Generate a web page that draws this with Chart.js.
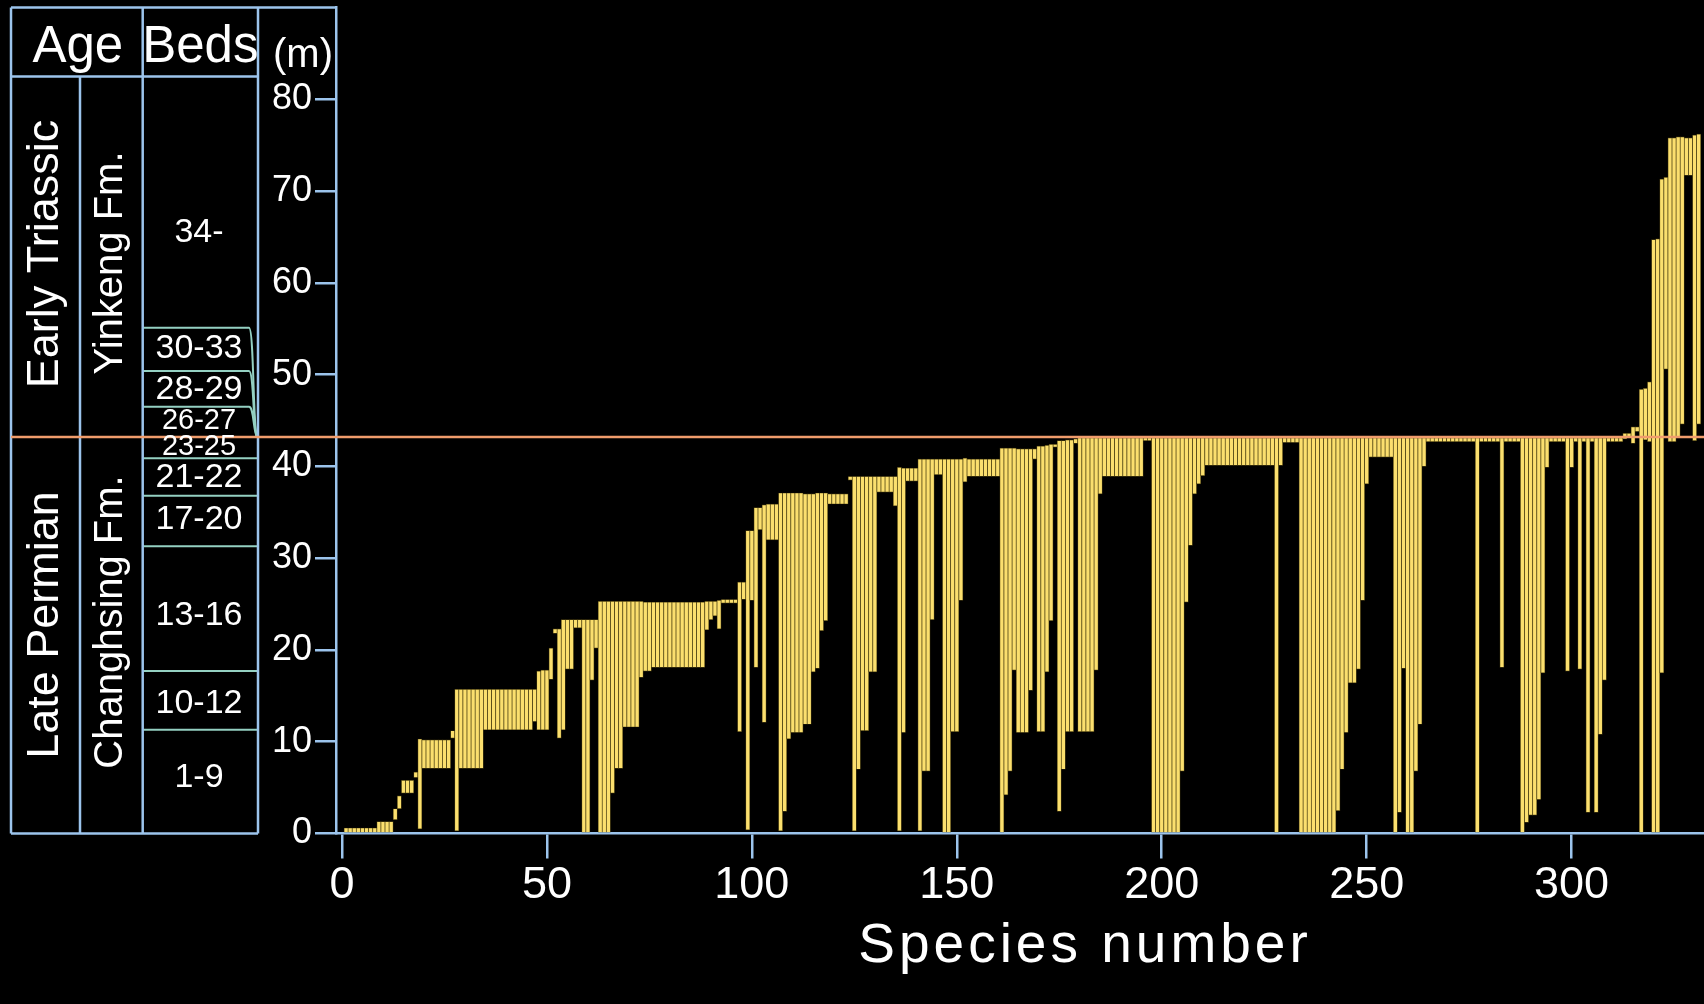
<!DOCTYPE html>
<html lang="en">
<head>
<meta charset="UTF-8">
<title>Species ranges - Meishan</title>
<script src="https://cdn.jsdelivr.net/npm/chart.js"></script>
<style>
  html, body { margin: 0; padding: 0; background: #000; }
  canvas { display: block; }
</style>
</head>
<body>
<canvas id="rangeChart" width="1704" height="1004"></canvas>
<script>
// lowest occurrence of each species (m), species 1..331
var firstSeen = [
  0, 0, 0, 0, 0, 0, 0, 0, 0, 0,
  0, 0, 1.5, 2.7, 4.4, 4.4, 4.4, 6.1, 0.5, 7.1,
  7.1, 7.1, 7.1, 7.1, 7.1, 7.1, 10.4, 0.3, 7.1, 7.1,
  7.1, 7.1, 7.1, 7.1, 11.3, 11.3, 11.3, 11.3, 11.3, 11.3,
  11.3, 11.3, 11.3, 11.3, 11.3, 11.3, 12.2, 11.3, 11.3, 11.3,
  16.8, 21.8, 10.4, 11.3, 17.9, 17.9, 22.4, 22.4, 0, 0,
  16.7, 20.2, 0, 0, 0, 4.4, 7.1, 7.1, 11.6, 11.6,
  11.6, 11.6, 17.0, 17.7, 17.7, 18.1, 18.1, 18.1, 18.1, 18.1,
  18.1, 18.1, 18.1, 18.1, 18.1, 18.1, 18.1, 18.1, 22.2, 23.3,
  23.7, 22.3, 25.1, 25.1, 25.1, 25.1, 11.1, 25.5, 0.4, 25.4,
  18.1, 33.1, 12.1, 32.0, 32.0, 32.0, 0.3, 2.4, 10.3, 11.0,
  11.0, 11.0, 11.9, 11.9, 17.6, 18.0, 22.1, 23.2, 35.9, 35.9,
  35.9, 35.9, 35.9, 38.5, 0.3, 7.0, 11.2, 11.2, 17.6, 17.6,
  37.2, 37.2, 37.2, 37.2, 35.7, 0.3, 11.0, 38.4, 38.4, 38.4,
  0.3, 6.8, 6.8, 23.3, 39.1, 39.1, 0, 0, 11.1, 11.1,
  25.4, 38.3, 38.9, 38.9, 38.9, 38.9, 38.9, 38.9, 38.9, 38.9,
  0, 4.2, 6.8, 17.8, 11.0, 11.0, 11.0, 15.6, 40.8, 11.1,
  11.1, 17.6, 23.2, 42.1, 2.4, 7.0, 11.1, 11.1, 42.5, 11.1,
  11.1, 11.1, 11.1, 17.8, 37.0, 38.9, 38.9, 38.9, 38.9, 38.9,
  38.9, 38.9, 38.9, 38.9, 38.9, 42.8, 42.8, 0, 0, 0,
  0, 0, 0, 0, 6.8, 25.2, 31.4, 37.0, 38.1, 39.0,
  40.1, 40.1, 40.1, 40.1, 40.1, 40.1, 40.1, 40.1, 40.1, 40.1,
  40.1, 40.1, 40.1, 40.1, 40.1, 40.1, 40.1, 0, 40.1, 42.6,
  42.6, 42.6, 42.6, 0, 0, 0, 0, 0, 0, 0,
  0, 0, 2.5, 7.0, 11.0, 16.4, 16.4, 17.9, 25.4, 38.1,
  41.0, 41.0, 41.0, 41.0, 41.0, 41.0, 0, 2.3, 18.0, 0,
  0, 6.8, 11.9, 40.0, 42.7, 42.7, 42.7, 42.7, 42.7, 42.7,
  42.7, 42.7, 42.7, 42.7, 42.7, 42.7, 0, 42.7, 42.7, 42.7,
  42.7, 42.7, 18.1, 42.7, 42.7, 42.7, 42.7, 0, 1.2, 2.0,
  2.0, 3.7, 17.5, 39.9, 42.7, 42.7, 42.7, 42.7, 17.7, 39.9,
  42.7, 17.9, 42.7, 2.3, 42.7, 2.3, 10.8, 16.7, 42.7, 42.7,
  42.7, 42.7, 43.0, 43.1, 42.5, 43.8, 0, 42.9, 42.7, 0,
  0, 17.5, 50.6, 42.7, 42.7, 43.1, 44.6, 71.7, 71.7, 42.8, 44.6
];

// highest occurrence of each species (m)
var lastSeen = [
  0.6, 0.6, 0.6, 0.6, 0.6, 0.6, 0.6, 0.6, 1.3, 1.3,
  1.3, 1.3, 2.7, 4.1, 5.8, 5.8, 5.8, 6.7, 10.3, 10.2,
  10.2, 10.2, 10.2, 10.2, 10.2, 10.2, 11.2, 15.7, 15.7, 15.7,
  15.7, 15.7, 15.7, 15.7, 15.7, 15.7, 15.7, 15.7, 15.7, 15.7,
  15.7, 15.7, 15.7, 15.7, 15.7, 15.7, 15.7, 17.7, 17.8, 17.8,
  20.2, 22.3, 22.3, 23.3, 23.3, 23.3, 23.3, 23.3, 23.3, 23.3,
  23.3, 23.3, 25.3, 25.3, 25.3, 25.3, 25.3, 25.3, 25.3, 25.3,
  25.3, 25.3, 25.3, 25.2, 25.2, 25.2, 25.2, 25.2, 25.2, 25.2,
  25.2, 25.2, 25.2, 25.2, 25.2, 25.2, 25.2, 25.2, 25.3, 25.3,
  25.3, 25.4, 25.5, 25.5, 25.5, 25.5, 27.4, 27.4, 33.0, 33.0,
  35.5, 35.5, 35.8, 35.9, 35.9, 35.9, 37.1, 37.1, 37.1, 37.1,
  37.1, 37.1, 37.0, 37.0, 37.0, 37.1, 37.1, 37.1, 37.0, 37.0,
  37.0, 37.0, 37.0, 38.9, 38.9, 38.9, 38.9, 38.9, 38.9, 38.9,
  38.9, 38.9, 38.9, 38.9, 38.9, 39.9, 39.8, 39.8, 39.8, 39.8,
  40.8, 40.8, 40.8, 40.8, 40.8, 40.8, 40.8, 40.8, 40.8, 40.8,
  40.8, 40.9, 40.8, 40.8, 40.8, 40.8, 40.8, 40.8, 40.8, 40.8,
  42.0, 42.0, 42.0, 42.0, 41.9, 41.9, 41.9, 41.9, 41.9, 42.2,
  42.2, 42.3, 42.4, 42.4, 42.8, 42.8, 42.9, 42.9, 43.0, 43.1,
  43.1, 43.1, 43.1, 43.1, 43.1, 43.1, 43.1, 43.1, 43.1, 43.1,
  43.1, 43.1, 43.1, 43.1, 43.1, 43.1, 43.1, 43.1, 43.1, 43.1,
  43.1, 43.1, 43.1, 43.1, 43.1, 43.1, 43.1, 43.1, 43.1, 43.1,
  43.1, 43.1, 43.1, 43.1, 43.1, 43.1, 43.1, 43.1, 43.1, 43.1,
  43.1, 43.1, 43.1, 43.1, 43.1, 43.1, 43.1, 43.1, 43.1, 43.1,
  43.1, 43.1, 43.1, 43.1, 43.1, 43.1, 43.1, 43.1, 43.1, 43.1,
  43.1, 43.1, 43.1, 43.1, 43.1, 43.1, 43.1, 43.1, 43.1, 43.1,
  43.1, 43.1, 43.1, 43.1, 43.1, 43.1, 43.1, 43.1, 43.1, 43.1,
  43.1, 43.1, 43.1, 43.1, 43.1, 43.1, 43.1, 43.1, 43.1, 43.1,
  43.1, 43.1, 43.1, 43.1, 43.1, 43.1, 43.1, 43.1, 43.1, 43.1,
  43.1, 43.1, 43.1, 43.1, 43.1, 43.1, 43.1, 43.1, 43.1, 43.1,
  43.1, 43.1, 43.1, 43.1, 43.1, 43.1, 43.1, 43.1, 43.1, 43.1,
  43.1, 43.1, 43.1, 43.1, 43.1, 43.1, 43.1, 43.1, 43.1, 43.1,
  43.1, 43.1, 43.6, 43.6, 44.3, 44.3, 48.4, 48.5, 49.2, 64.7,
  64.8, 71.3, 71.5, 75.8, 75.8, 75.9, 75.9, 75.8, 75.8, 76.1, 76.2
];

var xTicks = [0, 50, 100, 150, 200, 250, 300];
var yTicks = [0, 10, 20, 30, 40, 50, 60, 70, 80];

// stratigraphic column
var boundaryLevel = 43.2;                 // Permian / Triassic boundary
var bedLines = [11.3, 17.7, 31.3, 36.8, 40.9];
var expandedBedLines = [46.5, 50.4, 55.1];  // thin beds drawn stretched
var bedNames = ['1-9', '10-12', '13-16', '17-20', '21-22', '23-25', '26-27', '28-29', '30-33', '34-'];
var bedLabelAt = [6.1, 14.1, 23.7, 34.2, 38.8, 42.1, 44.9, 48.4, 52.8, 65.5];
var ageNames = ['Late Permian', 'Early Triassic'];
var formationNames = ['Changhsing Fm.', 'Yinkeng Fm.'];

var species = firstSeen.map(function (v, i) { return i + 1; });
var ranges = species.map(function (s, i) {
    return { x: s, y: [firstSeen[i], lastSeen[i]] };
});

var FONT = "'Liberation Sans', Arial, sans-serif";
var BLUE = '#9cc4ec';
var TEAL = '#94d0c2';
var ORANGE = '#f09c6c';

var stratColumn = {
    id: 'stratColumn',
    afterDraw: function (chart) {
        var ctx = chart.ctx;
        var yS = chart.scales.y;
        var area = chart.chartArea;
        var left = 11, c1 = 80, c2 = 142.7, right = 258;
        var top = area.top, head = 76.6, bottom = yS.getPixelForValue(0);
        var pb = yS.getPixelForValue(boundaryLevel);

        ctx.save();
        ctx.lineCap = 'butt';

        // bed boundaries
        ctx.strokeStyle = TEAL;
        ctx.lineWidth = 2;
        bedLines.forEach(function (m) {
            var py = yS.getPixelForValue(m);
            ctx.beginPath();
            ctx.moveTo(c2, py);
            ctx.lineTo(right, py);
            ctx.stroke();
        });
        expandedBedLines.forEach(function (m) {
            var py = yS.getPixelForValue(m);
            ctx.beginPath();
            ctx.moveTo(c2, py);
            ctx.lineTo(249, py);
            ctx.bezierCurveTo(254, py, 253, pb - 6, 257, pb);
            ctx.stroke();
        });

        // frame
        ctx.strokeStyle = BLUE;
        ctx.lineWidth = 2.5;
        ctx.beginPath();
        ctx.moveTo(left, top); ctx.lineTo(area.left, top);
        ctx.moveTo(left, head); ctx.lineTo(right, head);
        ctx.moveTo(left, bottom); ctx.lineTo(right, bottom);
        ctx.moveTo(left, top); ctx.lineTo(left, bottom);
        ctx.moveTo(c1, head); ctx.lineTo(c1, bottom);
        ctx.moveTo(c2, top); ctx.lineTo(c2, bottom);
        ctx.moveTo(right, top); ctx.lineTo(right, bottom);
        ctx.stroke();

        // P/T boundary across everything
        ctx.strokeStyle = ORANGE;
        ctx.lineWidth = 2.5;
        ctx.beginPath();
        ctx.moveTo(left, pb);
        ctx.lineTo(area.right, pb);
        ctx.stroke();

        // texts
        ctx.fillStyle = '#ffffff';
        ctx.textAlign = 'center';
        ctx.textBaseline = 'alphabetic';
        ctx.font = '51px ' + FONT;
        ctx.fillText('Age', (left + c2) / 2 + 1, 62);
        ctx.fillText('Beds', (c2 + right) / 2, 62);

        ctx.textBaseline = 'middle';
        bedNames.forEach(function (name, i) {
            var small = (name === '26-27' || name === '23-25');
            ctx.font = (small ? '29px ' : '34px ') + FONT;
            ctx.fillText(name, 199, yS.getPixelForValue(bedLabelAt[i]));
        });

        ctx.textAlign = 'left';
        ctx.font = '40px ' + FONT;
        ctx.fillText('(m)', 273, 56);

        // rotated age / formation names
        function vtext(txt, x, y, size) {
            ctx.save();
            ctx.translate(x, y);
            ctx.rotate(-Math.PI / 2);
            ctx.textAlign = 'center';
            ctx.textBaseline = 'middle';
            ctx.font = size + 'px ' + FONT;
            ctx.fillText(txt, 0, 0);
            ctx.restore();
        }
        vtext(ageNames[1], 46, 254, 45);
        vtext(ageNames[0], 46, 625, 45);
        vtext(formationNames[1], 111, 263, 40);
        vtext(formationNames[0], 111, 622, 40);

        // x axis title, spaced out
        ctx.textAlign = 'center';
        ctx.textBaseline = 'alphabetic';
        ctx.font = '55px ' + FONT;
        ctx.letterSpacing = '4px';
        ctx.fillText('Species number', 1085, 962);
        ctx.restore();
    }
};

var ctx = document.getElementById('rangeChart').getContext('2d');
var rangeChart = new Chart(ctx, {
    type: 'bar',
    data: {
        datasets: [{
            label: 'Species range',
            data: ranges,
            backgroundColor: '#fbdf6e',
            borderColor: '#4e4212',
            borderWidth: 0.7,
            borderSkipped: false,
            barPercentage: 1.0,
            categoryPercentage: 1.0
        }]
    },
    options: {
        responsive: false,
        devicePixelRatio: 1,
        animation: false,
        layout: { padding: { left: 258, top: 7.5, right: 0, bottom: 0 } },
        plugins: {
            legend: { display: false },
            tooltip: { enabled: false }
        },
        scales: {
            x: {
                type: 'linear',
                offset: false,
                min: -1.46,
                max: 332.3,
                afterBuildTicks: function (axis) {
                    axis.ticks = xTicks.map(function (v) { return { value: v }; });
                },
                afterFit: function (axis) {
                    axis.height = 170.5;
                    axis.paddingLeft = 0;
                    axis.paddingRight = 0;
                },
                border: { color: BLUE, width: 2.5 },
                grid: {
                    offset: false,
                    drawOnChartArea: false,
                    drawTicks: true,
                    tickLength: 25,
                    color: BLUE,
                    lineWidth: 2.5
                },
                ticks: {
                    color: '#ffffff',
                    font: { family: FONT, size: 45 },
                    padding: 0,
                    maxRotation: 0,
                    autoSkip: false
                }
            },
            y: {
                min: 0,
                max: 90,
                afterBuildTicks: function (axis) {
                    axis.ticks = yTicks.map(function (v) { return { value: v }; });
                },
                afterFit: function (axis) {
                    axis.width = 78;
                    axis.paddingTop = 0;
                    axis.paddingBottom = 0;
                },
                border: { color: BLUE, width: 2.5 },
                grid: {
                    drawOnChartArea: false,
                    drawTicks: true,
                    tickLength: 21,
                    color: BLUE,
                    lineWidth: 2.5
                },
                ticks: {
                    color: '#ffffff',
                    font: { family: FONT, size: 36 },
                    padding: 3
                }
            }
        }
    },
    plugins: [stratColumn]
});
console.log('species plotted:', species.length, lastSeen.length);
</script>
</body>
</html>
